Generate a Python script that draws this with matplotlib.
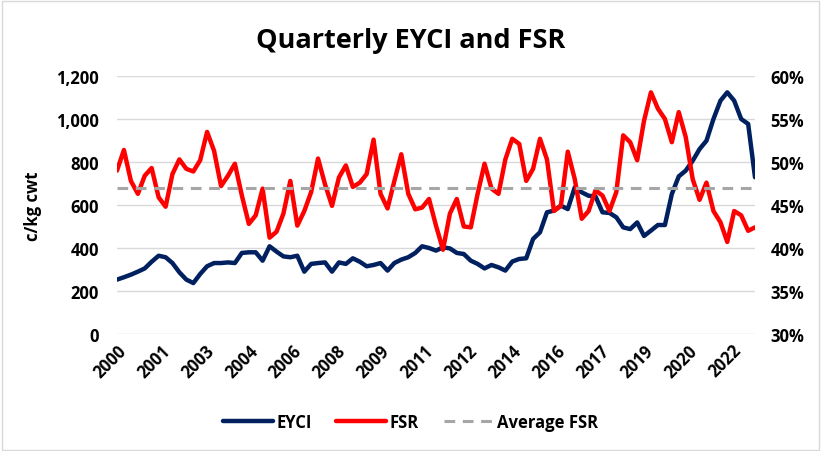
import numpy as np
import pandas as pd
import matplotlib
matplotlib.use("Agg")
import matplotlib.pyplot as plt
import matplotlib.dates as mdates
from matplotlib.ticker import FuncFormatter, MultipleLocator
from matplotlib.patches import Rectangle

plt.rcParams['font.family'] = ['Open Sans', 'DejaVu Sans']
plt.rcParams['font.weight'] = 'bold'

# quarterly observations, Mar 2000 .. Mar 2023
quarters = pd.date_range("2000-03-31", periods=93, freq="QE")

# EYCI, c/kg cwt
eyci = [253, 264, 276, 290, 305, 336, 364, 357, 330, 287,
        253, 237, 279, 315, 330, 330, 333, 330, 377, 380,
        380, 341, 408, 383, 361, 357, 364, 290, 326, 330,
        333, 290, 333, 326, 352, 336, 315, 321,
        330, 295, 330, 346, 357, 377, 408, 400, 388, 403,
        398, 377, 372, 341, 326, 305, 321, 310, 295, 337,
        349, 352, 442, 473, 566, 574, 597, 581, 682, 659,
        643, 640, 566, 563, 543, 496, 488, 519, 456, 481,
        507, 507, 651, 733, 760, 806, 860, 899, 1000, 1085,
        1124, 1085, 1000, 977, 729]

# FSR, % (right axis)
fsr = [49.0, 51.4, 47.8, 46.3, 48.4, 49.3, 45.9, 44.8, 48.6, 50.3,
       49.2, 48.9, 50.2, 53.5, 51.3, 47.2, 48.4, 49.8, 46.1, 42.8,
       43.8, 46.9, 41.2, 41.9, 44.0, 47.8, 42.6, 44.3, 46.5, 50.4,
       47.4, 44.9, 48.2, 49.6, 47.1, 47.6, 48.6, 52.6,
       46.3, 44.6, 47.8, 50.9, 46.3, 44.5, 44.7, 45.7, 42.6, 39.8,
       44.0, 45.7, 42.5, 42.4, 46.3, 49.8, 46.9, 46.3, 50.3, 52.7,
       52.1, 47.8, 49.2, 52.7, 50.3, 44.3, 44.9, 51.2, 48.0, 43.4,
       44.3, 46.7, 46.1, 44.3, 46.5, 53.1, 52.3, 50.2, 54.8, 58.1,
       56.2, 55.0, 52.3, 55.8, 52.9, 48.0, 45.6, 47.6, 44.3, 43.0,
       40.7, 44.3, 43.8, 42.0, 42.4]

avg_fsr = 47.0

# x labels every 19 months, like the original date axis
tick_dates = pd.date_range("2000-03-31", periods=15, freq="19ME")

fig = plt.figure(figsize=(8.21, 4.52), dpi=100)
ax = fig.add_axes([117/821, 1-335/452, (755-117)/821, (335-77)/452])
ax2 = ax.twinx()

l1, = ax.plot(quarters, eyci, color='#002060', lw=3.2, solid_capstyle='round', label='EYCI')
l2, = ax2.plot(quarters, fsr, color='#FF0000', lw=3.2, solid_capstyle='round', label='FSR')
l3, = ax2.plot(quarters, [avg_fsr]*len(quarters), color='#A6A6A6', lw=2.2,
               dashes=(3.5, 2.5), label='Average FSR')

ax.set_ylim(0, 1200)
ax.yaxis.set_major_locator(MultipleLocator(200))
ax.yaxis.set_major_formatter(FuncFormatter(lambda v, p: f"{v:,.0f}"))
ax2.set_ylim(30, 60)
ax2.yaxis.set_major_locator(MultipleLocator(5))
ax2.yaxis.set_major_formatter(FuncFormatter(lambda v, p: f"{v:.0f}%"))

ax.set_xlim(quarters[0], quarters[-1])
ax.set_xticks(tick_dates)
ax.xaxis.set_major_formatter(mdates.DateFormatter('%Y'))

ax.grid(axis='y', color='#D9D9D9', lw=1)
ax.set_axisbelow(True)
for a in (ax, ax2):
    for s in a.spines.values():
        s.set_visible(False)
    a.tick_params(length=0, labelsize=12)
ax.tick_params(axis='y', pad=13)
ax2.tick_params(axis='y', pad=11)
ax.tick_params(axis='x', pad=5)
for lab in ax.get_xticklabels():
    lab.set_rotation(45)
    lab.set_ha('right')
    lab.set_rotation_mode('anchor')

ax.set_ylabel("c/kg cwt", fontsize=12, fontweight='bold', labelpad=10)

fig.text(0.5, 1-41/452, "Quarterly EYCI and FSR", ha='center', va='center',
         fontsize=19.5, fontweight='bold')

fig.legend([l1, l2, l3], ['EYCI', 'FSR', 'Average FSR'], loc='center',
           bbox_to_anchor=(0.5, 1-423/452), ncol=3, frameon=False,
           handlelength=3.0, handletextpad=0.2, columnspacing=1.5,
           prop={'weight': 'bold', 'size': 12})

fig.patches.append(Rectangle((0.002, 0.003), 0.995, 0.993, transform=fig.transFigure,
                             fill=False, edgecolor='#D9D9D9', lw=1))

fig.savefig("out.png", dpi=100)
